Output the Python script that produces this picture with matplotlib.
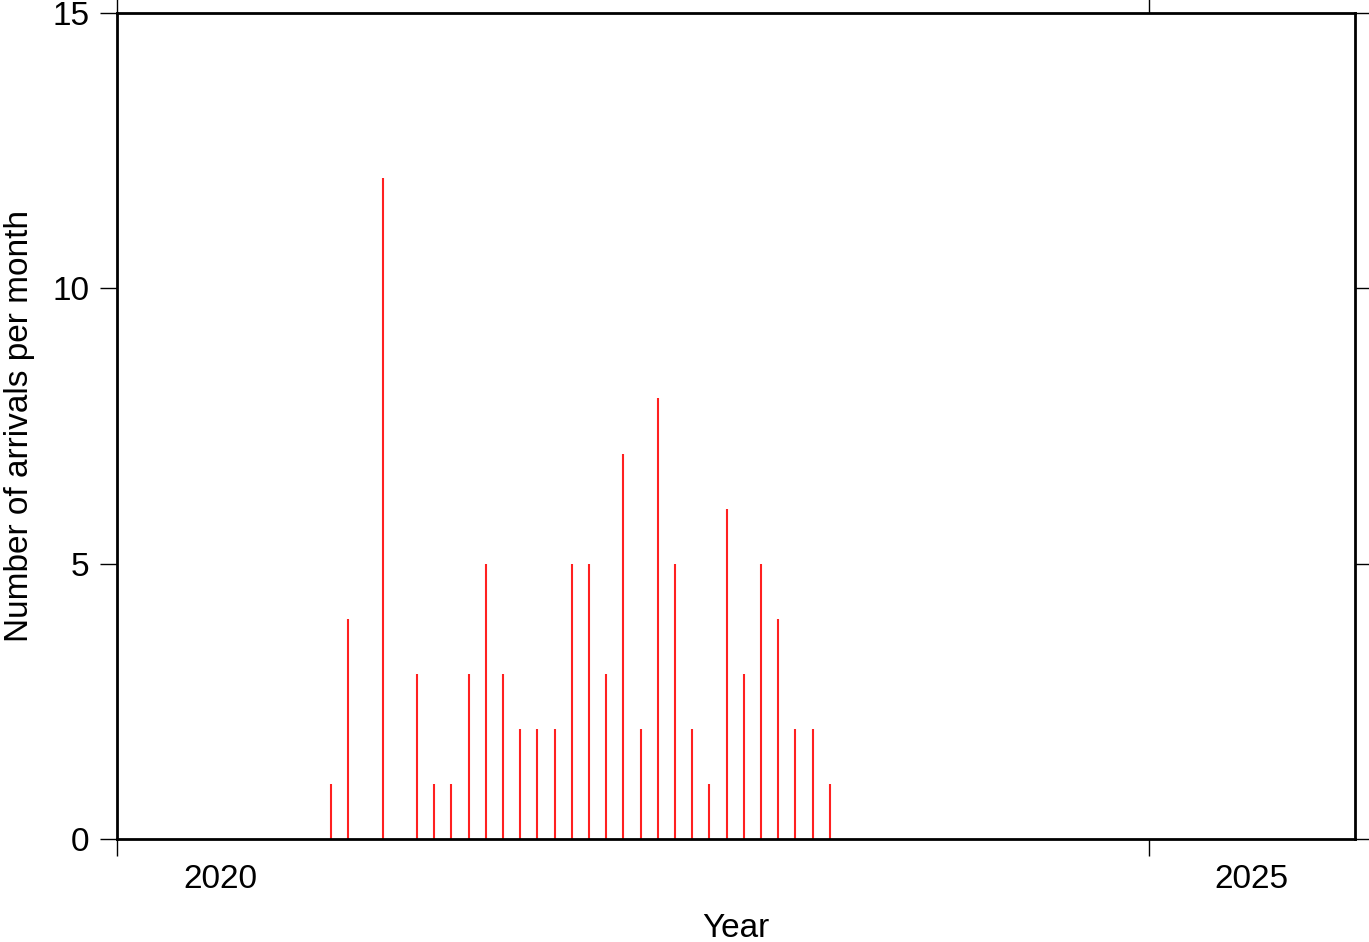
import matplotlib
matplotlib.use('Agg')
import matplotlib.pyplot as plt
import numpy as np

plt.rcParams['font.family'] = ['Liberation Sans', 'DejaVu Sans']

# months with arrivals and how many
months = ['2021-01', '2021-02', '2021-04', '2021-06', '2021-07', '2021-08',
          '2021-09', '2021-10', '2021-11', '2021-12', '2022-01', '2022-02',
          '2022-03', '2022-04', '2022-05', '2022-06', '2022-07', '2022-08',
          '2022-09', '2022-10', '2022-11', '2022-12', '2023-01', '2023-02',
          '2023-03', '2023-04', '2023-05', '2023-06']
counts = [1, 4, 12, 3, 1, 1, 3, 5, 3, 2, 2, 2, 5, 5, 3, 7, 2, 8, 5, 2, 1, 6,
          3, 5, 4, 2, 2, 1]
year_ticks = [2020, 2025]
year_labels = ['2020', '2025']


def to_year(m):
    '''месяц в виде дробного года (около середины месяца)'''
    y, mo = m.split('-')
    return int(y) + (int(mo) - 1 + 0.45) / 12


x = np.array([to_year(m) for m in months])

fig = plt.figure(figsize=(13.69, 9.42), dpi=100)
ax = fig.add_axes([117 / 1369, 1 - 839 / 942, 1238 / 1369, 826 / 942])

ax.vlines(x, 0, counts, colors='#ff2020', linewidth=1.5)

ax.set_xlim(2020, 2026)
ax.set_ylim(0, 15)

# большие деления без подписей, подписи по центру года
ax.set_xticks(year_ticks)
ax.set_xticklabels([])
ax.set_xticks([t + 0.5 for t in year_ticks], minor=True)
ax.set_xticklabels(year_labels, minor=True)
ax.tick_params(axis='x', which='minor', length=0, pad=18, labelsize=24)
ax.tick_params(axis='x', which='major', direction='out', length=12,
               width=1, top=True)
ax.set_yticks([0, 5, 10, 15])
ax.tick_params(axis='y', direction='out', length=12, width=1, right=True,
               labelsize=24, pad=8)

for s in ax.spines.values():
    s.set_linewidth(2)

ax.set_xlabel('Year', fontsize=24, labelpad=13)
ax.set_ylabel('Number of arrivals per month', fontsize=24, labelpad=12)

fig.savefig('out.png', dpi=100)
